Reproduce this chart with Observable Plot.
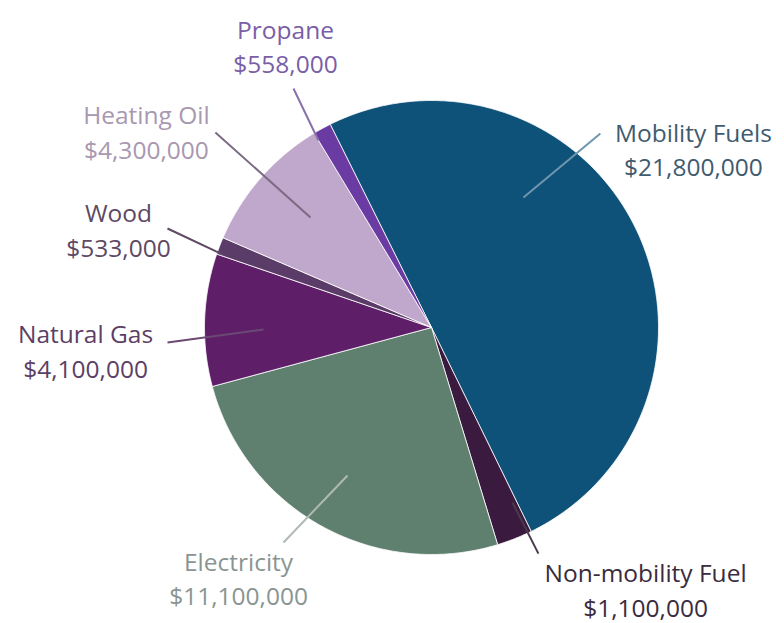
<!DOCTYPE html>
<html>
<head>
<meta charset="utf-8">
<script src="https://cdn.jsdelivr.net/npm/d3@7"></script>
<script src="https://cdn.jsdelivr.net/npm/@observablehq/plot@0.6"></script>
<style>
  html, body { margin: 0; padding: 0; background: #fff; }
  #chart { width: 784px; height: 623px; }
</style>
</head>
<body>
<div id="chart"></div>
<script>
// ---- data ----
const categories = ["Mobility Fuels", "Non-mobility Fuel", "Electricity", "Natural Gas", "Wood", "Heating Oil", "Propane"];
const values = [21800000, 1100000, 11100000, 4100000, 533000, 4300000, 558000];

// ---- styles ----
const sliceColors = ["#0f5279", "#3b1a40", "#5f7f6f", "#5e1f68", "#5b3c68", "#c0a7cc", "#6a3ba2"];
const textColors  = ["#3f5b6f", "#3b2b3e", "#8a9591", "#5d3f66", "#5d4964", "#a898b0", "#7a5ea6"];
const leaderColors = ["#6f96ae", "#4a3a4a", "#b0bab5", "#6a4a72", "#5e4a66", "#7a6a82", "#8a70a8"];

// label layout, in pie-radius units (centre = 0,0; radius = 1)
const labelPos = [[1.154, 0.791], [0.943, -1.150], [-0.850, -1.099], [-1.524, -0.096], [-1.379, 0.437], [-1.256, 0.868], [-0.643, 1.245]];
const leaderFrom = [[0.744, 0.855], [0.471, -0.996], [-0.652, -0.947], [-1.163, -0.066], [-1.163, 0.436], [-0.952, 0.859], [-0.608, 1.053]];
const leaderTo = [[0.405, 0.573], [0.357, -0.771], [-0.370, -0.652], [-0.740, -0.009], [-0.921, 0.322], [-0.533, 0.485], [-0.498, 0.824]];

const startDeg = -26.5;

const fmt = d3.format("$,");
const pie = d3.pie().sort(null).value(d => d.value)
  .startAngle(startDeg * Math.PI / 180)
  .endAngle(startDeg * Math.PI / 180 + 2 * Math.PI);

const rows = categories.map((c, i) => ({
  name: c, value: values[i], color: sliceColors[i], tcolor: textColors[i], lcolor: leaderColors[i],
  lx: labelPos[i][0], ly: labelPos[i][1],
  x1: leaderFrom[i][0], y1: leaderFrom[i][1], x2: leaderTo[i][0], y2: leaderTo[i][1]
}));
const arcs = pie(rows);

// wedge outlines (centre + arc), angles clockwise from top
const wedgePts = [];
arcs.forEach(a => {
  const n = Math.max(4, Math.ceil((a.endAngle - a.startAngle) / 0.01));
  wedgePts.push({name: a.data.name, color: a.data.color, x: 0, y: 0});
  for (let k = 0; k <= n; k++) {
    const t = a.startAngle + (a.endAngle - a.startAngle) * k / n;
    wedgePts.push({name: a.data.name, color: a.data.color, x: Math.sin(t), y: Math.cos(t)});
  }
  wedgePts.push({name: a.data.name, color: a.data.color, x: 0, y: 0});
});

const cx = 431, cy = 327, R = 227, W = 784, H = 623;

const chart = Plot.plot({
  width: W, height: H,
  marginLeft: cx - R, marginRight: W - (cx + R),
  marginTop: cy - R, marginBottom: H - (cy + R),
  x: {domain: [-1, 1], axis: null},
  y: {domain: [-1, 1], axis: null},
  color: {type: "identity"},
  style: {fontFamily: "'Open Sans', sans-serif", background: "#fff", overflow: "visible"},
  marks: [
    Plot.line(wedgePts, {x: "x", y: "y", z: "name", fill: "color", stroke: "#ffffff", strokeWidth: 1, strokeOpacity: 0.8, curve: "linear-closed"}),
    Plot.link(rows, {x1: "x1", y1: "y1", x2: "x2", y2: "y2", stroke: "lcolor", strokeWidth: 2}),
    Plot.text(rows, {x: "lx", y: "ly", text: d => d.name + "\n" + fmt(d.value), fill: "tcolor",
      fontSize: 24.5, lineHeight: 1.42, textAnchor: "middle", lineAnchor: "middle"})
  ]
});
document.getElementById("chart").appendChild(chart);
</script>
</body>
</html>
